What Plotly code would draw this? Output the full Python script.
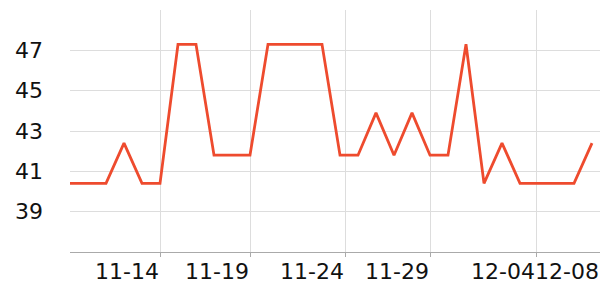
import plotly.graph_objects as go
import pandas as pd

dates = pd.date_range("2023-11-09", "2023-12-08", freq="D")
values = [40.4, 40.4, 40.4, 42.4, 40.4, 40.4, 47.3, 47.3, 41.8, 41.8,
          41.8, 47.3, 47.3, 47.3, 47.3, 41.8, 41.8, 43.9, 41.8, 43.9,
          41.8, 41.8, 47.3, 40.4, 42.4, 40.4, 40.4, 40.4, 40.4, 42.4]

x_tickvals = ["2023-11-14 00:00", "2023-11-19 00:00", "2023-11-24 06:40",
              "2023-11-29 00:00", "2023-12-04 21:20", "2023-12-08 10:40"]
x_ticktext = ["11-14", "11-19", "11-24", "11-29", "12-04", "12-08"]
y_tickvals = [39, 41, 43, 45, 47]

fig = go.Figure(go.Scatter(
    x=dates, y=values, mode="lines",
    line=dict(color="#ee4b2e", width=2.8),
))

fig.update_layout(
    width=600, height=300,
    margin=dict(l=70, r=0, t=10, b=48),
    paper_bgcolor="white", plot_bgcolor="white",
    showlegend=False,
    font=dict(family="DejaVu Sans", size=22, color="#111"),
)
fig.update_xaxes(
    type="date",
    range=["2023-11-09 00:00", "2023-12-08 10:40"],
    tickvals=x_tickvals, ticktext=x_ticktext,
    ticklabelposition="outside left", tickangle=0,
    ticklabeloverflow="allow",
    showgrid=True, gridcolor="#dddddd", gridwidth=1,
    showline=True, linecolor="#aaaaaa", linewidth=1,
    ticks="outside", ticklen=4, tickcolor="#aaaaaa",
    zeroline=False,
)
fig.update_yaxes(
    range=[37, 49],
    tickvals=y_tickvals,
    showgrid=True, gridcolor="#dddddd", gridwidth=1,
    showline=False, zeroline=False,
    ticklabelstandoff=26,
)

fig.write_html("out.html")
